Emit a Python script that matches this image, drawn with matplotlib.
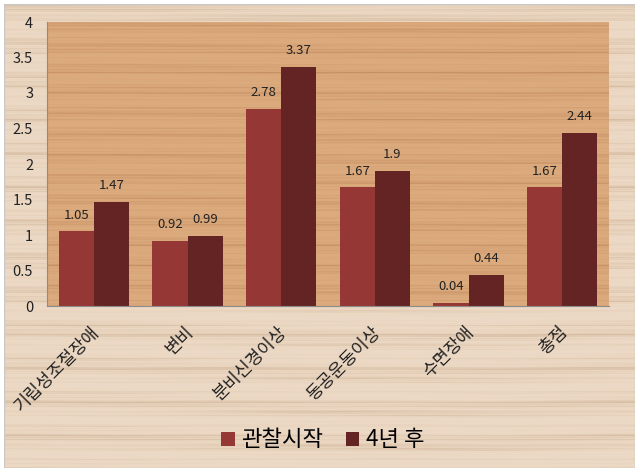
import numpy as np
import matplotlib
matplotlib.use("Agg")
import matplotlib.pyplot as plt
from matplotlib.patches import Rectangle

plt.rcParams['font.family'] = ['Noto Sans CJK KR', 'DejaVu Sans']

categories = ["기립성조절장애", "변비", "분비신경이상", "동공운동이상", "수면장애", "총점"]
start_vals = [1.05, 0.92, 2.78, 1.67, 0.04, 1.67]
after_vals = [1.47, 0.99, 3.37, 1.9, 0.44, 2.44]
series_names = ["관찰시작", "4년 후"]
colors = ["#953735", "#632423"]


def wood(h, w, base, dark, phase=0.0):
    # procedural horizontal wood grain (texture only)
    y = np.linspace(0, 1, h)[:, None]
    x = np.linspace(0, 1, w)[None, :]
    g = (np.sin(2 * np.pi * (y * 13 + 0.12 * np.sin(2 * np.pi * x * 0.9 + phase)))
         + 0.8 * np.sin(2 * np.pi * (y * 41 + 0.08 * np.sin(2 * np.pi * x * 1.7 + 2 * phase)))
         + 0.7 * np.sin(2 * np.pi * (y * 97 + 0.05 * np.sin(2 * np.pi * x * 3.3 + 1.0)))
         + 0.5 * np.sin(2 * np.pi * (y * 211 + 0.03 * np.sin(2 * np.pi * x * 5.1))))
    g = (g - g.min()) / (g.max() - g.min())
    g = g ** 3
    base = np.array(matplotlib.colors.to_rgb(base))
    dark = np.array(matplotlib.colors.to_rgb(dark))
    return base * (1 - g[..., None]) + dark * g[..., None]


fig = plt.figure(figsize=(6.39, 4.72), dpi=100)
fig.patch.set_facecolor("white")

# figure wood background
bg = fig.add_axes([4 / 639, 4 / 472, 631 / 639, 464 / 472])
bg.imshow(wood(464, 631, "#eddac6", "#d3b89c", 1.3), aspect="auto", interpolation="bilinear")
bg.set_axis_off()
bg.add_patch(Rectangle((0, 0), 1, 1, transform=bg.transAxes, fill=False,
                       edgecolor="#c8c8c8", lw=1))

ax = fig.add_axes([47 / 639, 1 - 306 / 472, 562 / 639, 284 / 472])
ax.set_zorder(2)
ax.patch.set_alpha(0)

x = np.arange(len(categories))
width = 0.375
# plot area wood
ax.imshow(wood(284, 562, "#dcab7e", "#c58f63", 0.7), aspect="auto",
          extent=(-0.5, len(categories) - 0.5, 0, 4), interpolation="bilinear", zorder=0)

b1 = ax.bar(x - width / 2, start_vals, width, color=colors[0], label=series_names[0], zorder=2)
b2 = ax.bar(x + width / 2, after_vals, width, color=colors[1], label=series_names[1], zorder=2)

for bars, vals in ((b1, start_vals), (b2, after_vals)):
    for rect, v in zip(bars, vals):
        ax.annotate(f"{v:g}", (rect.get_x() + rect.get_width() / 2, v),
                    xytext=(0, 7), textcoords="offset points",
                    ha="center", va="bottom", fontsize=9.5, color="#222222")

ax.set_xlim(-0.5, len(categories) - 0.5)
ax.set_ylim(0, 4)
ax.set_yticks(np.arange(0, 4.01, 0.5))
ax.set_yticklabels([f"{t:g}" for t in np.arange(0, 4.01, 0.5)], fontsize=10.5)
ax.set_xticks(x + 0.03)
ax.set_xticklabels(categories, rotation=45, ha="right", va="center",
                   rotation_mode="anchor", fontsize=12.5)
ax.tick_params(axis="both", length=0, pad=10, colors="#222222")
ax.tick_params(axis="x", pad=17)
for s in ["top", "right"]:
    ax.spines[s].set_visible(False)
for s in ["left", "bottom"]:
    ax.spines[s].set_color("#8c8c8c")

fig.legend(handles=[b1, b2], labels=series_names, loc="center", bbox_to_anchor=(0.505, 1 - 440 / 472),
           ncol=2, frameon=False, fontsize=16, handlelength=0.6, handleheight=0.6,
           handletextpad=0.3, columnspacing=1.0)

fig.savefig("out.png", dpi=100)
